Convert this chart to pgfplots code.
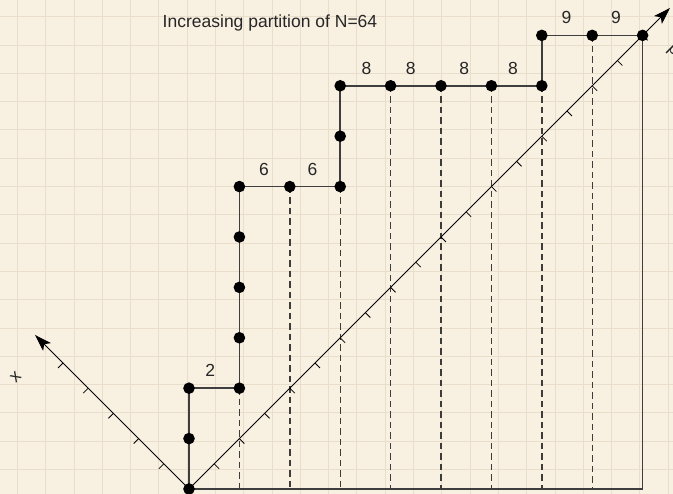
\documentclass[border=0pt]{standalone}
\usepackage{fontspec}
\setmainfont{Liberation Sans}
\usepackage{pgfplots}
\pgfplotsset{compat=1.18}
\usetikzlibrary{arrows.meta}

\definecolor{paper}{RGB}{248,240,225}
\definecolor{gridc}{RGB}{233,222,203}
\definecolor{pathc}{RGB}{62,62,62}
\definecolor{dashc}{RGB}{62,60,56}

% one-sided ticks for the two slanted axes
\pgfdeclareplotmark{tickdr}{\pgfpathmoveto{\pgfpointorigin}\pgfpathlineto{\pgfpoint{5pt}{-5pt}}\pgfusepathqstroke}
\pgfdeclareplotmark{tickdl}{\pgfpathmoveto{\pgfpointorigin}\pgfpathlineto{\pgfpoint{-5pt}{-5pt}}\pgfusepathqstroke}

\begin{document}
\begin{tikzpicture}
\path[use as bounding box, clip] (0,0) rectangle (673pt,494pt);
\begin{axis}[
    at={(0,0)}, anchor=south west,
    scale only axis, width=673pt, height=494pt,
    xmin=-3.75, xmax=9.603, ymin=-0.0992, ymax=9.702,
    axis background/.style={fill=paper},
    axis line style={draw=none},
    major tick length=0pt,
    xticklabels={}, yticklabels={},
    xtick={-3.4067,-2.8452,...,9.6},
    ytick={0.387,0.9485,...,9.5},
    grid=major,
    grid style={gridc, line width=0.8pt},
    font=\fontsize{17.5}{20}\selectfont,
  ]

  % dashed drops from each column top
  \addplot[dashc, line width=1.4pt, dash pattern=on 6.5pt off 4pt, unbounded coords=jump] coordinates {
    (1,2) (1,0) (1,nan)
    (2,6) (2,0) (2,nan)
    (3,6) (3,0) (3,nan)
    (4,8) (4,0) (4,nan)
    (5,8) (5,0) (5,nan)
    (6,8) (6,0) (6,nan)
    (7,8) (7,0) (7,nan)
    (8,9) (8,0)
  };

  % frame: bottom and right side
  \addplot[pathc, line width=1.5pt] coordinates {(0,0) (9,0) (9,9)};

  % slanted axes
  \addplot[black, line width=0.9pt, -{Stealth[length=17pt, width=11pt, inset=4pt]}]
    coordinates {(0,0) (9.544,9.544)};
  \addplot[black, line width=0.9pt, -{Stealth[length=17pt, width=11pt, inset=4pt]}]
    coordinates {(0,0) (-3.056,3.056)};

  \addplot[only marks, mark=tickdr, mark options={line width=0.8pt}] coordinates {
    (0.5,0.5) (1,1) (1.5,1.5) (2,2) (2.5,2.5) (3,3) (3.5,3.5) (4,4) (4.5,4.5)
    (5,5) (5.5,5.5) (6,6) (6.5,6.5) (7,7) (7.5,7.5) (8,8) (8.5,8.5) (9,9)
  };
  \addplot[only marks, mark=tickdl, mark options={line width=0.8pt}] coordinates {
    (-0.5,0.5) (-1,1) (-1.5,1.5) (-2,2) (-2.5,2.5)
  };

  % lattice path of the partition 2,6,6,8,8,8,8,9,9
  \addplot[pathc, line width=1.5pt, mark=*, mark size=5pt,
    mark options={fill=black, draw=black}] coordinates {
    (0,0) (0,1) (0,2) (1,2) (1,3) (1,4) (1,5) (1,6) (2,6) (3,6)
    (3,7) (3,8) (4,8) (5,8) (6,8) (7,8) (7,9) (8,9) (9,9)
  };

  % part sizes above the horizontal steps
  \addplot[only marks, mark=none, nodes near coords, point meta=explicit symbolic,
    nodes near coords style={anchor=base, inner sep=0pt, text=black!85}]
    table[meta=lab] {
    x y lab
    0.42 2.228 2
    1.49 6.228 6
    2.45 6.228 6
    3.52 8.228 8
    4.40 8.228 8
    5.46 8.228 8
    6.43 8.228 8
    7.49 9.228 9
    8.47 9.228 9
  };

  \node[anchor=base, inner sep=0pt, text=black!85] at (axis cs:1.607,9.147)
    {Increasing partition of N=64};
  \node[rotate=45, inner sep=0pt, text=black!85] at (axis cs:-3.438,2.222) {x};
  \node[rotate=-45, inner sep=0pt, text=black!85] at (axis cs:9.60,8.70) {p};
\end{axis}
\end{tikzpicture}
\end{document}
